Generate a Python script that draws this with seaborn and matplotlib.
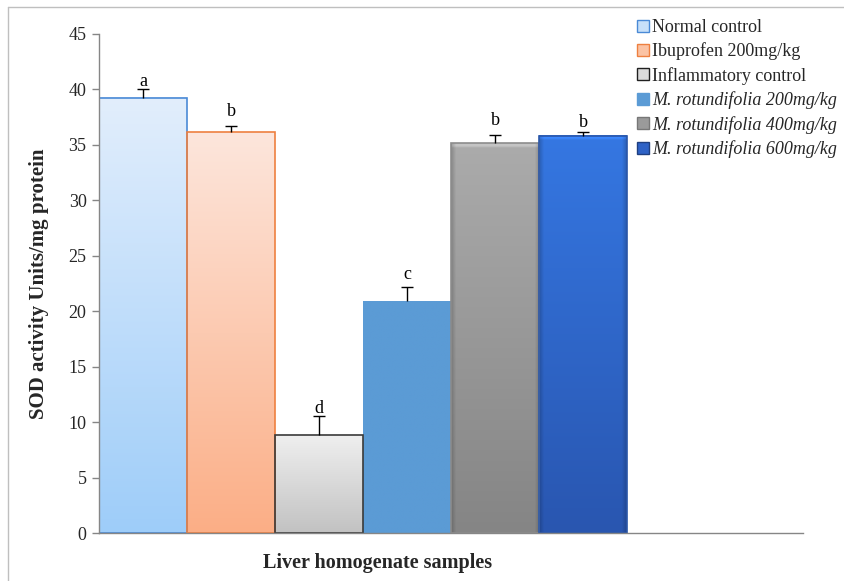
import numpy as np
import pandas as pd
import matplotlib
matplotlib.use("Agg")
import matplotlib.pyplot as plt
import seaborn as sns
from matplotlib.patches import Patch
from matplotlib.lines import Line2D
from matplotlib.colors import to_rgb

# ---- data ----
groups = ["Normal control", "Ibuprofen 200mg/kg", "Inflammatory control",
          "M. rotundifolia 200mg/kg", "M. rotundifolia 400mg/kg", "M. rotundifolia 600mg/kg"]
values = [39.2, 36.1, 8.8, 20.9, 35.1, 35.8]
errors = [0.8, 0.6, 1.7, 1.3, 0.8, 0.3]
letters = ["a", "b", "d", "c", "b", "b"]
letter_y = [40.25, 37.6, 10.8, 22.9, 36.8, 36.6]
yticks = [0, 5, 10, 15, 20, 25, 30, 35, 40, 45]

# ---- styles ----
top_cols = ["#E2EEFC", "#FDE6DC", "#EFEFEF", "#5B9BD5", "#ABABAB", "#3577E2"]
bot_cols = ["#9ECDF9", "#FBAE86", "#C2C2C2", "#5B9BD5", "#858585", "#2956B0"]
edge_cols = ["#4A8AD6", "#EE8040", "#3A3A3A", "none", "#8C8C8C", "#2A56A8"]
bevel = [False, False, False, False, True, True]
leg_face = ["#C7E0F9", "#FBC3A4", "#DADADA", "#5B9BD5", "#9A9A9A", "#2E62C6"]
leg_edge = ["#4A8AD6", "#EE8040", "#202020", "#5B9BD5", "#777777", "#1F3F80"]

sns.set_style("white")
plt.rcParams["font.family"] = ["Liberation Serif", "DejaVu Serif"]

W, H = 844, 581
fig = plt.figure(figsize=(W / 100, H / 100), dpi=100)
ax = fig.add_axes([99 / W, 1 - 533 / H, (803 - 99) / W, (533 - 33.6) / H])

df = pd.DataFrame({"group": groups, "value": values})
sns.barplot(data=df, x="group", y="value", hue="group", palette=top_cols,
            width=1.0, saturation=1, ax=ax, legend=False, errorbar=None)

for i, p in enumerate(ax.patches):
    x0, w, h = p.get_x(), p.get_width(), p.get_height()
    n = 200
    t = np.linspace(0, 1, n)[:, None]  # 0 bottom -> 1 top
    c0 = np.array(to_rgb(bot_cols[i]))
    c1 = np.array(to_rgb(top_cols[i]))
    img = c0 + (c1 - c0) * t[..., None]
    img = np.repeat(img, 60, axis=1)
    if bevel[i]:
        m = img.shape[1]
        xs_ = np.linspace(0, 1, m)
        side = np.clip(np.minimum(xs_, 1 - xs_) / 0.05, 0, 1)
        img = img * (0.82 + 0.18 * side[None, :, None])
        topn = max(2, int(n * 0.25 / max(h, 1)))
        img[-topn:, :, :] = np.clip(img[-topn:, :, :] * 1.15, 0, 1)
    ax.imshow(img, extent=[x0, x0 + w, 0, h], origin="lower", aspect="auto",
              zorder=1.5, interpolation="bilinear")
    p.set_facecolor("none")
    p.set_edgecolor(edge_cols[i])
    p.set_linewidth(1.2)
    p.set_zorder(2)

xs = np.arange(len(groups))
eb = ax.errorbar(xs, values, yerr=[np.zeros(len(errors)), errors], fmt="none",
                 ecolor="black", elinewidth=1.0, capsize=4, capthick=1.0, zorder=3)
caps = eb[1]
if len(caps) == 2:
    caps[0].set_visible(False)  # only top caps, like the original

for x, ly, lt in zip(xs, letter_y, letters):
    ax.text(x, ly, lt, ha="center", va="baseline", fontsize=13, color="black")

ax.set_xlim(-0.5, 7.5)
ax.set_ylim(0, 45)
ax.set_yticks(yticks)
ax.set_yticklabels([str(v) for v in yticks], fontsize=13)
ax.set_xticks([])
ax.set_xlabel("")
ax.set_ylabel("SOD activity Units/mg protein", fontsize=15, fontweight="bold", labelpad=14)
for s in ["top", "right"]:
    ax.spines[s].set_visible(False)
for s in ["left", "bottom"]:
    ax.spines[s].set_color("#868686")
    ax.spines[s].set_linewidth(1.0)
ax.tick_params(axis="y", direction="out", length=5, color="#868686", width=1, pad=4, left=True)

fig.text(378 / W, 1 - 563 / H, "Liver homogenate samples", ha="center", va="center",
         fontsize=14.5, fontweight="bold")

handles = [Patch(facecolor=f, edgecolor=e, linewidth=1.0) for f, e in zip(leg_face, leg_edge)]
leg = fig.legend(handles, groups, loc="upper left", bbox_to_anchor=(637 / W, 1 - 19 / H),
                 frameon=False, fontsize=13, handlelength=0.65, handleheight=0.65,
                 handletextpad=0.2, labelspacing=0.36, borderpad=0, borderaxespad=0)
for i, txt in enumerate(leg.get_texts()):
    if i >= 3:
        txt.set_fontstyle("italic")

# outer border lines (top and left)
fig.add_artist(Line2D([8 / W, 1], [1 - 7 / H, 1 - 7 / H], color="#BFBFBF", lw=1.0, transform=fig.transFigure))
fig.add_artist(Line2D([8 / W, 8 / W], [0, 1 - 7 / H], color="#BFBFBF", lw=1.0, transform=fig.transFigure))

fig.savefig("out.png", dpi=100, facecolor="white")
